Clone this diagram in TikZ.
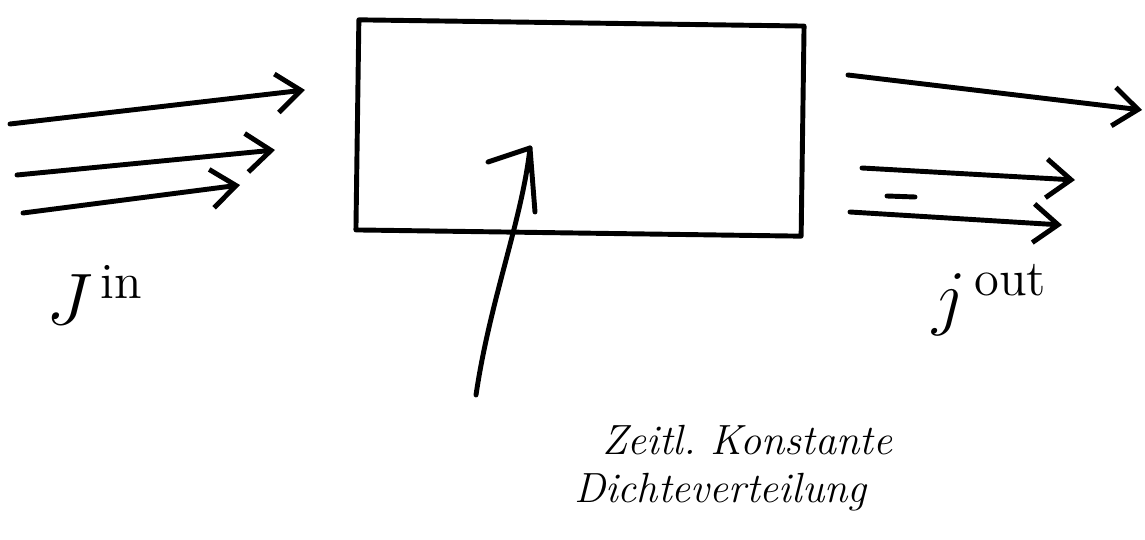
\documentclass[tikz,border=0pt]{standalone}
\usepackage{amsmath}
\usepackage{tikz}
\usetikzlibrary{arrows.meta, positioning, calc}

\begin{document}
\begin{tikzpicture}[x=0.01cm, y=-0.01cm, line width=1.4pt, line cap=round, line join=round,
        flow/.style={-{Straight Barb[length=7pt, width=11pt, line width=1.4pt]}},
        hand/.style={font=\itshape\large}]
                \useasboundingbox (0,0) rectangle (1145,540);
                % Bilanzgebiet
                \node[draw, rectangle, minimum width=4.45cm, minimum height=2.1cm, rotate=-0.8] (box) at (580,128) {};
                % einstroemend
                \coordinate (i1s) at (10,124);   \coordinate (i1e) at (305,90);
                \coordinate (i2s) at (17,175);   \coordinate (i2e) at (275,150);
                \coordinate (i3s) at (23,213);   \coordinate (i3e) at (240,185);
                \draw[flow] (i1s) -- (i1e);
                \draw[flow] (i2s) -- (i2e);
                \draw[flow] (i3s) -- (i3e);
                % ausstroemend
                \coordinate (o1s) at (848,75);   \coordinate (o1e) at (1142,110);
                \coordinate (o2s) at (862,168);  \coordinate (o2e) at (1075,180);
                \coordinate (o3s) at (850,212);  \coordinate (o3e) at (1062,225);
                \draw[flow] (o1s) -- (o1e);
                \draw[flow] (o2s) -- (o2e);
                \draw[flow] (o3s) -- (o3e);
                \draw (887,196) -- (915,197);
                
                \node (jin) at (95,295) {\huge $J^{\,\text{in}}$};
                \node (jout) at (990,300) {\huge $j^{\,\text{out}}$};
                
                \node[hand, anchor=west] (t1) at (588,440) {Zeitl.~Konstante};
                \node[hand, anchor=west] (t2) at (560,492) {Dichteverteilung};
                \coordinate (ptr) at (476,395);
                \coordinate (tip) at (530,148);
                \draw (ptr) .. controls (490,300) and (522,220) .. (tip) -- (535,212);
                \draw (tip) -- (488,162);
            \end{tikzpicture}
\end{document}
